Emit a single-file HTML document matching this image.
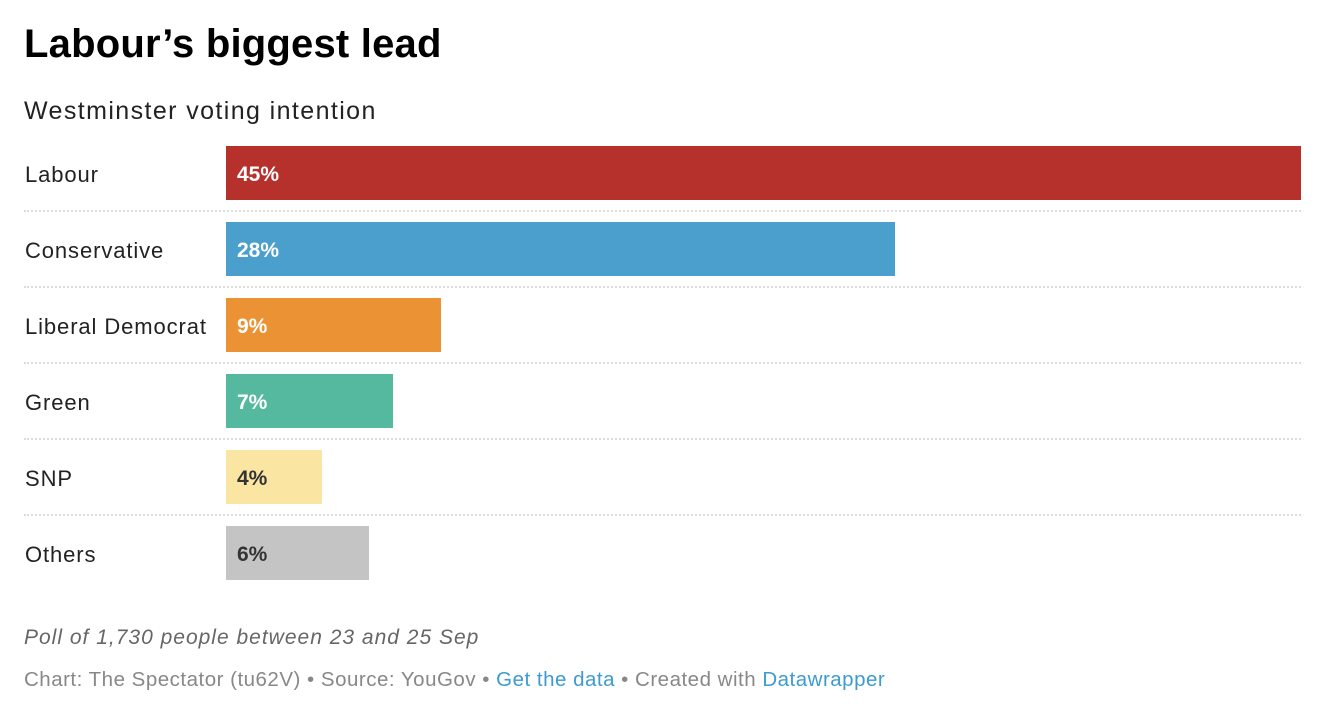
<!DOCTYPE html>
<html><head><meta charset="utf-8"><style>
html,body{margin:0;padding:0;background:#fff;width:1340px;height:724px;overflow:hidden;font-family:"Liberation Sans",sans-serif;}
.t{position:absolute;left:24px;top:22px;font-size:40px;font-weight:bold;color:#000;letter-spacing:0.2px;}
.s{position:absolute;left:24px;top:97px;font-size:25px;color:#222;letter-spacing:1.4px;}
.row{position:absolute;left:0;width:1340px;height:54px;}
.lab{position:absolute;left:25px;top:2px;line-height:54px;font-size:22px;color:#222;letter-spacing:0.9px;}
.bar{position:absolute;left:226px;top:0;height:54px;}
.v{position:absolute;left:11px;top:2px;line-height:54px;font-size:21px;font-weight:bold;color:#fff;}
.sep{position:absolute;left:24px;width:1277px;border-top:2px dotted #ddd;}
.n{position:absolute;left:24px;top:626px;font-size:21px;font-style:italic;color:#666;letter-spacing:1px;}
.c{position:absolute;left:24px;top:668px;font-size:20.5px;color:#888;letter-spacing:0.5px;}
.c span{color:#3d9bcf;}
</style></head><body>
<div class="t">Labour’s biggest lead</div>
<div class="s">Westminster voting intention</div>

<div class="row" style="top:146px"><div class="lab">Labour</div><div class="bar" style="width:1075px;background:#b7312c"><div class="v">45%</div></div></div>
<div class="sep" style="top:210px"></div>
<div class="row" style="top:222px"><div class="lab">Conservative</div><div class="bar" style="width:669px;background:#4a9fcc"><div class="v">28%</div></div></div>
<div class="sep" style="top:286px"></div>
<div class="row" style="top:298px"><div class="lab">Liberal Democrat</div><div class="bar" style="width:215px;background:#eb9235"><div class="v">9%</div></div></div>
<div class="sep" style="top:362px"></div>
<div class="row" style="top:374px"><div class="lab">Green</div><div class="bar" style="width:167px;background:#55b9a0"><div class="v">7%</div></div></div>
<div class="sep" style="top:438px"></div>
<div class="row" style="top:450px"><div class="lab">SNP</div><div class="bar" style="width:96px;background:#fbe5a3"><div class="v" style="color:#333">4%</div></div></div>
<div class="sep" style="top:514px"></div>
<div class="row" style="top:526px"><div class="lab">Others</div><div class="bar" style="width:143px;background:#c4c4c4"><div class="v" style="color:#333">6%</div></div></div>

<div class="n">Poll of 1,730 people between 23 and 25 Sep</div>
<div class="c">Chart: The Spectator (tu62V) • Source: YouGov • <span>Get the data</span> • Created with <span>Datawrapper</span></div>
</body></html>
